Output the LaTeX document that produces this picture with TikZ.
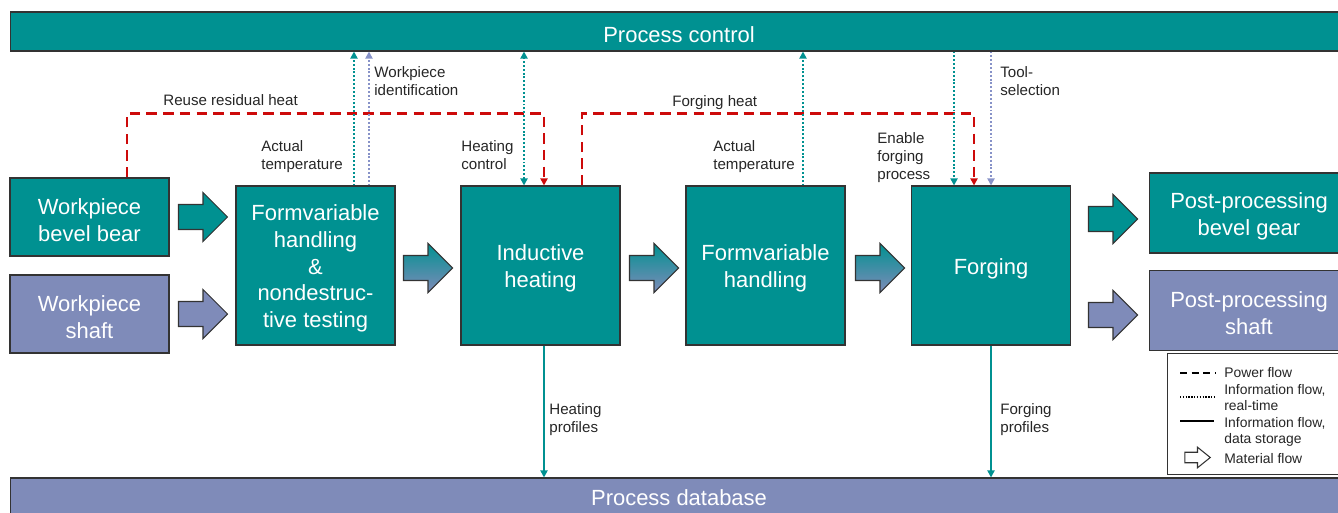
\documentclass[tikz,border=0pt]{standalone}
\usepackage{fontspec}
\setmainfont{Liberation Sans}
\usetikzlibrary{arrows.meta}

\definecolor{procteal}{RGB}{0,145,145}
\definecolor{proclav}{RGB}{127,139,185}
\definecolor{infolav}{RGB}{135,146,200}
\definecolor{heatred}{RGB}{205,10,10}

\newcommand{\bigtxt}{\fontsize{12.5}{15.3}\selectfont}
\newcommand{\smalltxt}{\fontsize{8.6}{10.2}\selectfont}
\newcommand{\legtxt}{\fontsize{7.9}{9.1}\selectfont}
\newcommand{\boxstrut}{\rule{0pt}{12.4pt}}

\tikzset{
  box/.style={draw=black!80,line width=0.6pt,text=white,font=\bigtxt,align=center,inner sep=0pt},
  bar/.style={box,minimum width=26.76cm,minimum height=0.78cm},
  wpbox/.style={box,minimum width=3.18cm,minimum height=1.56cm},
  stepbox/.style={box,fill=procteal,minimum width=3.18cm,minimum height=3.18cm},
  postbox/.style={box,minimum width=4cm,minimum height=1.6cm},
  lbl/.style={font=\smalltxt,text=black!85,align=left,inner sep=0pt,anchor=base west},
  legitem/.style={font=\legtxt,text=black!85,align=left,inner sep=0pt,anchor=west},
  power/.style={heatred,line width=1.5pt,dash pattern=on 6pt off 3.5pt},
  rtteal/.style={procteal,line width=1.4pt,dash pattern=on 1.1pt off 1.1pt},
  rtlav/.style={infolav,line width=1.4pt,dash pattern=on 1.1pt off 1.1pt},
  store/.style={procteal,line width=1.1pt},
  matflow/.pic={
    \draw[draw=black!80,line width=0.6pt,pic actions]
      (-24.5,-12.5) -- (0,-12.5) -- (0,-24.5) -- (24.5,0) -- (0,24.5) -- (0,12.5) -- (-24.5,12.5) -- cycle;
  }
}

\begin{document}
\begin{tikzpicture}[x=0.02cm,y=-0.02cm,>={Triangle[length=4pt,width=4pt]}]
\useasboundingbox (0,0) rectangle (1338,513);

% control and database bars
\node[bar,fill=procteal] (ctrl) at (679,31.5) {\boxstrut Process control};
\node[bar,fill=proclav,minimum height=0.8cm] (db) at (679,498) {Process database};

% workpieces
\node[wpbox,fill=procteal] (gear) at (89.5,217) {\boxstrut Workpiece\\bevel bear};
\node[wpbox,fill=proclav] (shaft) at (89.5,314) {\boxstrut Workpiece\\shaft};

% process chain
\node[stepbox] (ndt) at (315.5,265.5) {\boxstrut Formvariable\\handling\\\&\\nondestruc-\\tive testing};
\node[stepbox] (heat) at (540.5,265.5) {\boxstrut Inductive\\heating};
\node[stepbox] (hand) at (765.5,265.5) {\boxstrut Formvariable\\handling};
\node[stepbox] (forge) at (991,265.5) {\boxstrut Forging};

\node[postbox,fill=procteal] (postgear) at (1249,213) {\boxstrut Post-processing\\bevel gear};
\node[postbox,fill=proclav] (postshaft) at (1249,310.5) {\boxstrut Post-processing\\shaft};

% material flow
\pic[fill=procteal] at (203,217) {matflow};
\pic[fill=proclav] at (203,314) {matflow};
\foreach \x in {428,654,880}
  \pic[top color=procteal,bottom color=proclav] at (\x,268) {matflow};
\pic[fill=procteal] at (1113,219) {matflow};
\pic[fill=proclav] at (1113,315) {matflow};

% ports on the boxes
\coordinate (gearOut) at ([xshift=0.75cm]gear.north);
\coordinate (ndtT) at ([xshift=0.77cm]ndt.north);
\coordinate (ndtL) at ([xshift=1.07cm]ndt.north);
\coordinate (heatT) at ([xshift=-0.33cm]heat.north);
\coordinate (heatIn) at ([xshift=0.07cm]heat.north);
\coordinate (heatOut) at ([xshift=0.83cm]heat.north);
\coordinate (heatDown) at ([xshift=0.07cm]heat.south);
\coordinate (handT) at ([xshift=0.75cm]hand.north);
\coordinate (forgeT) at ([xshift=-0.74cm]forge.north);
\coordinate (forgeIn) at ([xshift=-0.34cm]forge.north);

% power flow
\draw[power,->] (gearOut) -- ++(0,-64) -| (heatIn);
\draw[power,->] (heatOut) -- ++(0,-72) -| (forgeIn);

% real-time information
\draw[rtteal,->] (ndtT) -- (ndtT |- ctrl.south);
\draw[rtlav,->] (ndtL) -- (ndtL |- ctrl.south);
\draw[rtteal,<->] (heatT) -- (heatT |- ctrl.south);
\draw[rtteal,->] (handT) -- (handT |- ctrl.south);
\draw[rtteal,->] (forgeT |- ctrl.south) -- (forgeT);
\draw[rtlav,->] (forge.north |- ctrl.south) -- (forge.north);

% data storage
\draw[store,->] (heatDown) -- (heatDown |- db.north);
\draw[store,->] (forge.south) -- (forge.south |- db.north);

% labels (placed at the baseline of their last line)
\node[lbl] (lreuse) at (163,105.5) {Reuse residual heat};
\node[lbl] (lfheat) at (672,106.5) {Forging heat};
\node[lbl] (lact1) at (261,169.5) {Actual\\temperature};
\node[lbl] (lwpid) at (374,95.5) {Workpiece\\identification};
\node[lbl] (lhctl) at (461,169.5) {Heating\\control};
\node[lbl] (lact2) at (713,169.5) {Actual\\temperature};
\node[lbl] (lenable) at (877,179.5) {Enable\\forging\\process};
\node[lbl] (ltool) at (1000,95.5) {Tool-\\selection};
\node[lbl] (lhprof) at (549,432.5) {Heating\\profiles};
\node[lbl] (lfprof) at (1000,432.5) {Forging\\profiles};

% legend
\node[draw=black!80,line width=0.6pt,fill=white,minimum width=3.62cm,minimum height=2.42cm,anchor=north west,inner sep=0pt] (legend) at (1167,353) {};
\draw[black,line width=1.3pt,dash pattern=on 4pt off 2.6pt] (1180,373) -- (1216,373);
\draw[black,line width=1pt,dash pattern=on 0.8pt off 0.8pt] (1180,397) -- (1216,397);
\draw[black,line width=1.2pt] (1180,421) -- (1214,421);
\pic[fill=white,xscale=0.52,yscale=0.42] at (1197.5,457.5) {matflow};
\node[legitem] (lpower) at (1224,373) {Power flow};
\node[legitem] (lrt) at (1224,398) {Information flow,\\real-time};
\node[legitem] (lstore) at (1224,432) {Information flow,\\data storage};
\node[legitem] (lmat) at (1224,459) {Material flow};
\end{tikzpicture}
\end{document}
